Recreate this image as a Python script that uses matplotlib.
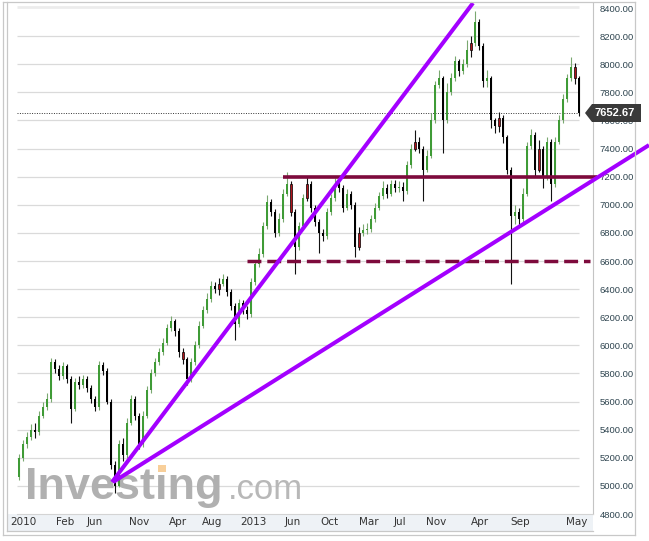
import numpy as np
import matplotlib
matplotlib.use("Agg")
import matplotlib.pyplot as plt
from matplotlib.patches import Polygon, Rectangle
from matplotlib.lines import Line2D

# weekly-ish candles
closes = [5200, 5300, 5350, 5400, 5380, 5500, 5560, 5620, 5880, 5830,
          5780, 5850, 5760, 5550, 5740, 5720, 5760, 5700, 5620, 5560,
          5860, 5820, 5600, 5150, 5000, 5300, 5220, 5450, 5620, 5500,
          5300, 5500, 5680, 5800, 5880, 5950, 6020, 6120, 6170, 6100,
          5950, 5900, 5760, 5880, 6000, 6140, 6250, 6330, 6420, 6400,
          6440, 6470, 6380, 6280, 6150, 6300, 6250, 6220, 6450, 6580,
          6650, 6850, 7020, 6950, 6800, 6900, 7080, 7150, 6950, 6700,
          6850, 7050, 7150, 6980, 6880, 6800, 6780, 6950, 7050, 7150,
          7120, 6980, 7080, 7000, 6700, 6800, 6820, 6830, 6900, 6980,
          7060, 7120, 7080, 7150, 7120, 7130, 7100, 7280, 7400, 7450,
          7400, 7250, 7350, 7600, 7850, 7900, 7600, 7800, 7900, 8020,
          7950, 8000, 8100, 8150, 8300, 8130, 7880, 7900, 7600, 7560,
          7620, 7480, 7250, 6920, 6950, 6900, 7080, 7420, 7500, 7250,
          7400, 7200, 7450, 7150, 7450, 7600, 7750, 7900, 7980, 7900,
          7652.67]
highs = [5230, 5330, 5380, 5440, 5450, 5530, 5600, 5660, 5910, 5900,
         5860, 5880, 5870, 5780, 5770, 5780, 5790, 5780, 5720, 5640,
         5890, 5880, 5840, 5620, 5180, 5330, 5340, 5480, 5650, 5640,
         5520, 5530, 5710, 5830, 5910, 5980, 6050, 6150, 6210, 6190,
         6120, 5980, 5920, 5910, 6030, 6170, 6280, 6370, 6460, 6450,
         6480, 6510, 6490, 6400, 6300, 6330, 6320, 6280, 6480, 6610,
         6690, 6880, 7070, 7040, 6970, 6940, 7110, 7230, 7170, 6970,
         6880, 7080, 7200, 7170, 7000, 6900, 6830, 6980, 7080, 7190,
         7180, 7140, 7110, 7100, 7020, 6840, 6860, 6870, 6930, 7010,
         7090, 7170, 7150, 7180, 7180, 7170, 7160, 7310, 7430, 7530,
         7480, 7420, 7390, 7650, 7880, 7960, 7920, 7870, 7940, 8060,
         8040, 8040, 8170, 8200, 8380, 8320, 8150, 7960, 7920, 7620,
         7660, 7640, 7500, 7270, 7000, 6980, 7120, 7450, 7540, 7520,
         7460, 7420, 7480, 7470, 7480, 7640, 7790, 7930, 8050, 8010,
         7920]
lows = [5040, 5180, 5270, 5330, 5340, 5360, 5480, 5540, 5600, 5800,
        5750, 5760, 5730, 5450, 5530, 5690, 5700, 5670, 5590, 5530,
        5540, 5790, 5580, 5120, 4950, 4990, 5180, 5200, 5430, 5470,
        5260, 5280, 5480, 5660, 5780, 5860, 5930, 6000, 6100, 6070,
        5920, 5870, 5720, 5740, 5860, 5980, 6120, 6230, 6310, 6370,
        6360, 6420, 6350, 6250, 6040, 6130, 6220, 6190, 6200, 6430,
        6560, 6630, 6830, 6920, 6770, 6780, 6880, 7060, 6920, 6510,
        6680, 6830, 7030, 6950, 6850, 6660, 6740, 6760, 6930, 7030,
        7090, 6950, 6960, 6970, 6630, 6680, 6780, 6790, 6810, 6880,
        6960, 7040, 7050, 7060, 7090, 7090, 7030, 7080, 7260, 7380,
        7370, 7030, 7230, 7330, 7580, 7830, 7370, 7580, 7780, 7880,
        7920, 7930, 7980, 8050, 8130, 8100, 7840, 7840, 7550, 7510,
        7520, 7440, 7220, 6440, 6860, 6850, 6880, 7060, 7400, 7200,
        7230, 7120, 7180, 7030, 7130, 7430, 7580, 7730, 7880, 7860,
        7630]
opens = [5060] + closes[:-1]
red_idx = [41, 50, 68, 72, 85, 99, 113, 120, 130, 139]

tick_pos = [1, 11.5, 19, 30, 39.75, 48.25, 58.5, 68.5, 77.5, 87.5,
            95.25, 104.25, 115.25, 125.25, 139.5]
tick_labels = ["2010", "Feb", "Jun", "Nov", "Apr", "Aug", "2013", "Jun",
               "Oct", "Mar", "Jul", "Nov", "Apr", "Sep", "May"]

# drawn-on lines: (x0, y0, x1, y1) in candle index / price
fan_steep = (23.25, 5027, 113.5, 8436)
fan_flat = (23.5, 5027, 157.5, 7425)
resist = (66, 144.5, 7197)
support = (57, 142.75, 6600)

W, H = 649, 541
fig = plt.figure(figsize=(W / 100, H / 100), dpi=100)
fig.patch.set_facecolor("white")


def fx(x):
    return x / W


def fy(y):
    return 1 - y / H


# outer frame + label strip
fig.add_artist(Rectangle((fx(8), fy(531)), fx(585), 17 / H, transform=fig.transFigure,
                         facecolor="#eef2f6", edgecolor="none", zorder=0))
for xs, ys in [([3, 3], [2, 535]), ([7, 7], [2, 531]), ([3, 635], [2, 2]),
               ([3, 635], [535, 535]), ([635, 635], [2, 535]), ([7, 593], [531, 531])]:
    fig.add_artist(Line2D([fx(v) for v in xs], [fy(v) for v in ys], transform=fig.transFigure,
                          color="#c8c8c8", lw=0.9, zorder=1))

ax = fig.add_axes([fx(17), fy(514), fx(593 - 17), (514 - 3) / H])
ax.set_facecolor("white")
ax.set_xlim(-0.5, 143.5)
ax.set_ylim(4800, 8436)

for s in ["top", "left"]:
    ax.spines[s].set_visible(False)
ax.spines["right"].set_color("#c4c4c4")
ax.spines["bottom"].set_color("#d4d4d4")

grid_levels = np.arange(5000, 8400, 200)
ax.hlines(grid_levels, -0.5, 140, color="#dadada", lw=0.9, zorder=0)
ax.hlines(8410, -0.5, 140, color="#ececec", lw=2, zorder=0)

ax.yaxis.tick_right()
ax.set_yticks(np.arange(4800, 8600, 200))
ax.set_yticklabels([f"{v:.2f}" for v in np.arange(4800, 8600, 200)],
                   fontsize=6.8, family="Liberation Sans", color="#2f4550")
ax.tick_params(axis="y", length=0, pad=5)
ax.set_xticks(tick_pos)
ax.set_xticklabels(tick_labels, fontsize=7.5, color="#333333")
ax.tick_params(axis="x", length=0, pad=2.5)

# watermark
wm_y = 0.03
ax.text(0.014, wm_y, "Investing", transform=ax.transAxes, fontsize=32.5, fontweight="bold",
        family="Liberation Sans", color="#b0b0b0", zorder=1, va="baseline")
ax.text(0.366, wm_y, ".com", transform=ax.transAxes, fontsize=25,
        family="Liberation Sans", color="#b8b8b8", zorder=1, va="baseline")

# orange dot on the "i": measure where the i sits
fig.canvas.draw()
rend = fig.canvas.get_renderer()
probe = ax.text(0.014, wm_y, "Invest", transform=ax.transAxes, fontsize=32.5, fontweight="bold",
                family="Liberation Sans", va="baseline")
bb = probe.get_window_extent(rend)
probe.remove()
base_px = ax.transAxes.transform((0, wm_y))[1]
em = 32.5 / 72 * 100
ix0 = bb.x1 + 0.055 * em
fig.add_artist(Rectangle((ix0 / W, (base_px + 0.585 * em) / H), 0.18 * em / W, 0.15 * em / H,
                         transform=fig.transFigure, facecolor="#f8cf9a", edgecolor="none", zorder=1.5))

# candles
x = np.arange(len(closes))
o = np.array(opens)
c = np.array(closes)
hi = np.maximum(np.array(highs), np.maximum(o, c))
lo = np.minimum(np.array(lows), np.minimum(o, c))
up = c >= o
red = np.zeros(len(c), bool)
red[red_idx] = True
down = ~up & ~red
upc = up & ~red

ax.vlines(x[upc], lo[upc], hi[upc], color="#7aa870", lw=0.8, zorder=3)
ax.vlines(x[~upc], lo[~upc], hi[~upc], color="#111111", lw=0.8, zorder=3)
body_lo = np.minimum(o, c)
body_h = np.maximum(np.abs(c - o), 8)
ax.bar(x[upc], body_h[upc], bottom=body_lo[upc], width=0.45, color="#3f9b36",
       edgecolor="none", zorder=4)
ax.bar(x[down], body_h[down], bottom=body_lo[down], width=0.62, color="#000000",
       edgecolor="none", zorder=4)
ax.bar(x[red], body_h[red], bottom=body_lo[red], width=0.62, color="#b0141c",
       edgecolor="#000000", lw=0.5, zorder=4)

# last price dotted line + tag
ax.hlines(closes[-1], -0.5, 140, color="#333333", lw=0.7, linestyles=(0, (1, 1.5)), zorder=2)
tag = [(585, 113), (592, 104), (641, 104), (641, 122), (592, 122)]
fig.add_artist(Polygon([(fx(a), fy(b)) for a, b in tag], closed=True, transform=fig.transFigure,
                       facecolor="#3a3a3a", edgecolor="none", zorder=5))
fig.text(fx(615), fy(113.5), f"{closes[-1]:.2f}", color="white", fontsize=8, fontweight="bold",
         family="Liberation Sans", ha="center", va="center", zorder=6)

# trend lines
purple = "#a300ff"
for x0, y0, x1, y1 in [fan_steep, fan_flat]:
    ax.plot([x0, x1], [y0, y1], color=purple, lw=2.9, solid_capstyle="butt",
            clip_on=False, zorder=6)
maroon = "#7d0a3c"
ax.plot([resist[0], resist[1]], [resist[2], resist[2]], color=maroon, lw=2.6,
        solid_capstyle="butt", clip_on=False, zorder=5)
ax.plot([support[0], support[1]], [support[2], support[2]], color=maroon, lw=2.5,
        linestyle=(0, (4, 1.7)), clip_on=False, zorder=5)

fig.savefig("out.png", dpi=100)
